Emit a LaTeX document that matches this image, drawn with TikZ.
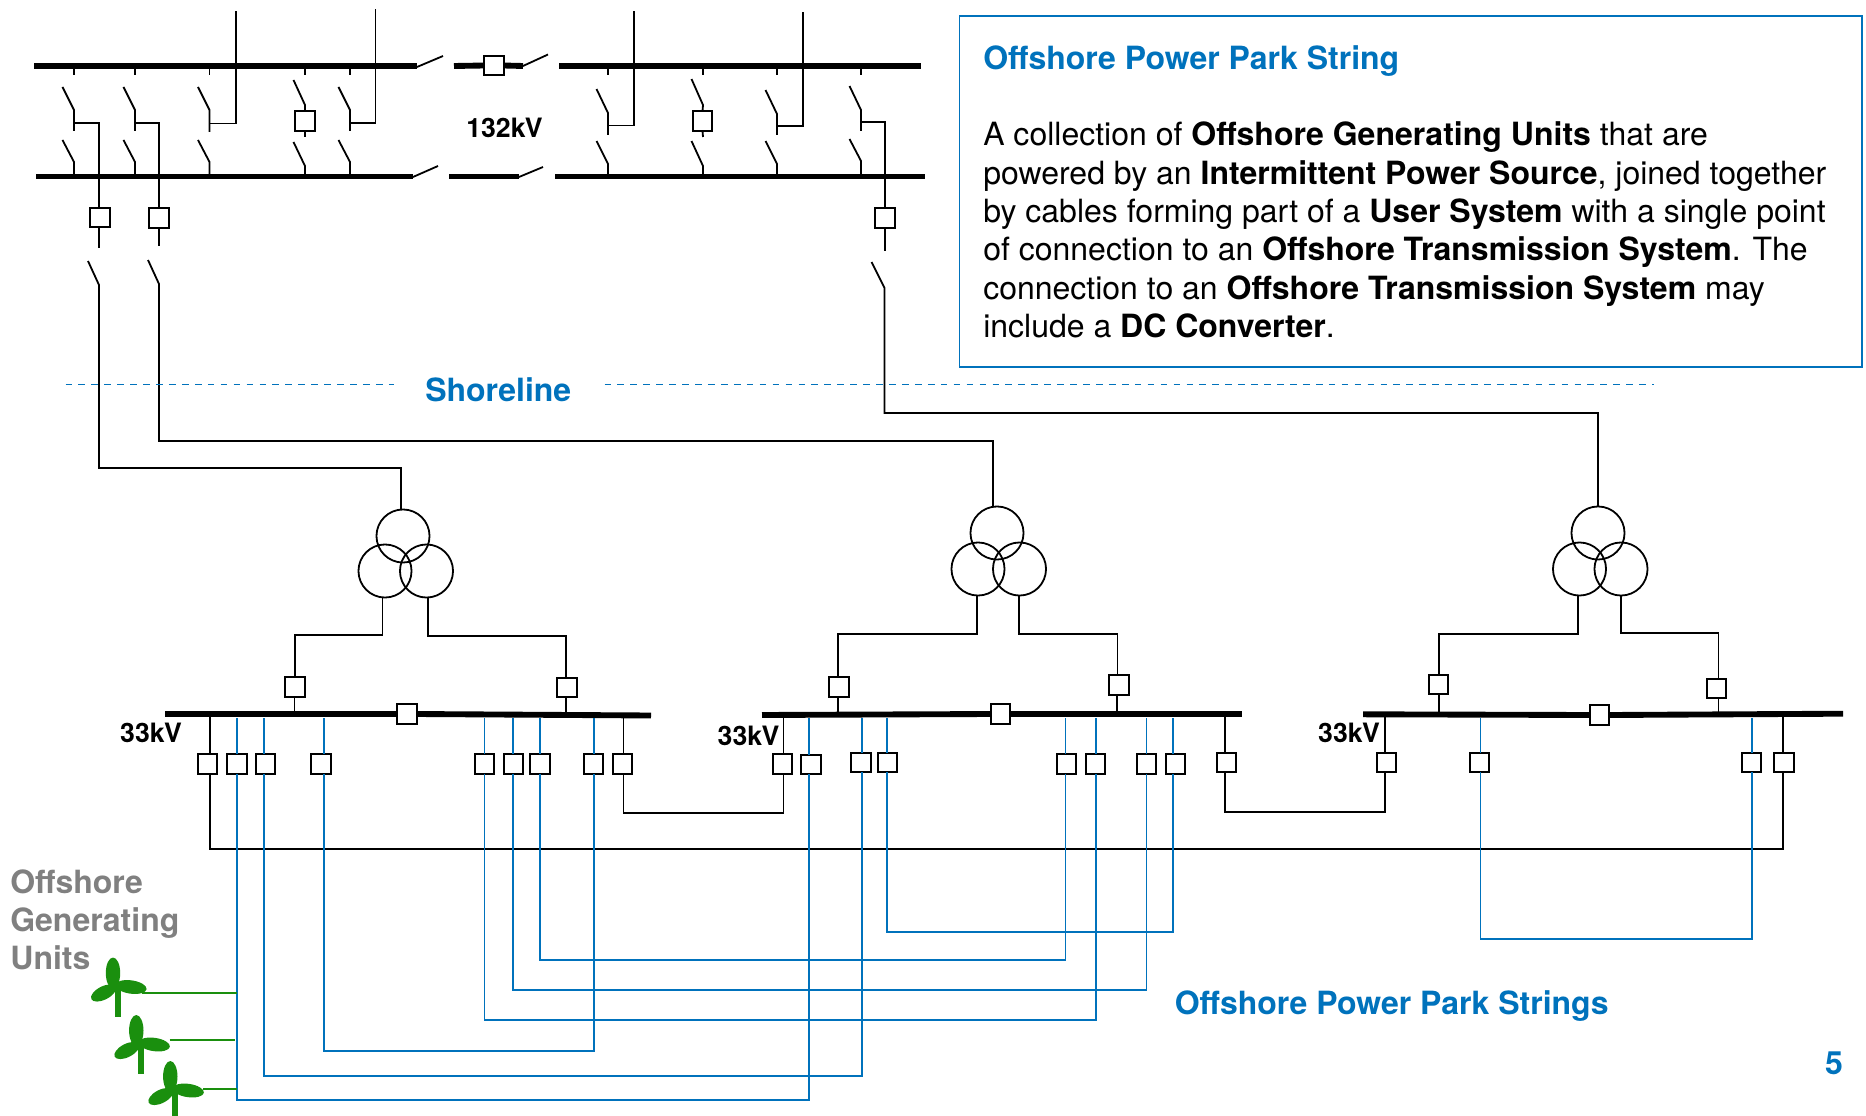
\documentclass[tikz,border=0pt]{standalone}
\usepackage{fontspec}
\setmainfont{TeX Gyre Heros}
\definecolor{pblue}{HTML}{0072BC}
\definecolor{pgreen}{HTML}{1A8F0E}
\definecolor{pgrey}{HTML}{808080}
\tikzset{
 wire/.style={black,line width=1.35pt},
 bwire/.style={pblue,line width=1.3pt},
 gwire/.style={pgreen,line width=1.3pt},
 bar/.style={black,line width=4.4pt},
 brk/.style={draw=black,line width=1.5pt,fill=white,minimum size=14.6pt,inner sep=0pt,outer sep=0pt},
 coil/.style={draw=black,line width=1.35pt,circle,minimum size=39.8pt,inner sep=0pt,outer sep=0pt},
 lab/.style={font=\fontsize{20pt}{22pt}\selectfont\bfseries,inner sep=0pt},
 bluetxt/.style={font=\fontsize{24pt}{28.75pt}\selectfont\bfseries,text=pblue,inner sep=0pt,anchor=west},
 shoredash/.style={pblue,line width=1.25pt,dash pattern=on 5pt off 4.7pt},
}
\newcommand{\sw}[4]{\draw[wire] (#1,#2) -- (#3,#4);}
\newcommand{\tw}[2]{%
 \begin{scope}[shift={(#1,#2)}]
  \fill[pgreen] (113,973) ellipse [x radius=5.4pt,y radius=11.6pt];
  \fill[pgreen] (131,987) ellipse [x radius=11.8pt,y radius=5pt,rotate=-8];
  \fill[pgreen] (103.5,993) ellipse [x radius=10.2pt,y radius=5pt,rotate=27];
  \fill[pgreen] (114.5,984) rectangle (120.5,1016.7);
 \end{scope}}
\newcommand{\lp}[3]{\draw[bwire] (b#1.south -| t#1) -- (t#1 |- 0,#3) -- (t#2 |- 0,#3) -- (b#2.south -| t#2);}
\begin{document}
\begin{tikzpicture}[x=0.75pt,y=-0.75pt]
\useasboundingbox (0,0) rectangle (1866,1116);
% ---- 33kV feeder nodes: name/line x/box x/box y/bus y
\foreach \n/\lx/\bx/\by/\ty in {
 a/210.2/207.5/764/714, b/237/237/764/718, c/264.2/265.3/764/718, d/323.9/321.2/764/718,
 e/484.6/484.6/764/718, f/513/513.3/764/718, g/539.7/540/764/718, h/593.7/593.7/764/718, i/623.5/622.4/764/716,
 j/783.4/782.7/764/716, k/808.7/811/764.7/718, l/862.3/861/762.3/718, m/886.8/887.5/762.3/718,
 n/1065.5/1066.6/764/718, o/1096/1095.7/764/718, p/1146.6/1146.6/764/718, q/1173/1175.7/764/718, r/1225/1226.6/762.3/716,
 s/1384.8/1386.3/762.3/716, u/1480.5/1479.4/762.3/718, v/1752.3/1751.6/762.3/718, w/1782.7/1783.8/762.3/715}
 {\node[brk] (b\n) at (\bx,\by) {}; \coordinate (t\n) at (\lx,\ty);}
% 132kV breakers
\node[brk] (h1) at (100,217.5) {};
\node[brk] (h2) at (159,218) {};
\node[brk] (h3) at (305,121) {};
\node[brk] (h4) at (702.5,121) {};
\node[brk] (h5) at (885,218) {};
\node[brk] (hs) at (494,65.5) {};
% 33kV upper breakers
\node[brk] (x1) at (295.2,687) {};
\node[brk] (x2) at (567,687.5) {};
\node[brk] (x3) at (839,687) {};
\node[brk] (x4) at (1119,685) {};
\node[brk] (x5) at (1438.6,684.3) {};
\node[brk] (x6) at (1716.6,688.3) {};
% section breakers
\node[brk] (s1) at (407,714) {};
\node[brk] (s2) at (1000.4,714) {};
\node[brk] (s3) at (1599.6,715) {};
% transformers
\node[coil] (tt1) at (403,536) {};
\node[coil] (tl1) at (385,571) {};
\node[coil] (tr1) at (426.5,571) {};
\node[coil] (tt2) at (997,533) {};
\node[coil] (tl2) at (978,569) {};
\node[coil] (tr2) at (1019.5,569) {};
\node[coil] (tt3) at (1598,533) {};
\node[coil] (tl3) at (1579.5,569) {};
\node[coil] (tr3) at (1621,569) {};
% ---- 132kV busbars
\draw[bar] (34,66) -- (417,66);
\draw[bar] (36,176.5) -- (413,176.5);
\draw[bar] (454,66) -- (hs.west);
\draw[bar] (hs.east) -- (523,66);
\draw[bar] (449,176.5) -- (519,176.5);
\draw[bar] (559,66) -- (920.7,66);
\draw[bar] (555,176.5) -- (925,176.5);
\sw{417}{67}{443}{56}
\sw{413}{177}{438}{166}
\sw{523}{66}{548}{54.5}
\sw{519}{177}{543}{167}
% stubs under top bar
\foreach \x in {74,135,209.5,305,350,608,703,777,861} {\draw[wire] (\x,66) -- (\x,75);}
% upper isolators
\foreach \x/\yt/\yb/\ye in {74/87/110/131,135/87/110/131,209.5/87/110/132,350/87/110/131,608/89/113/135,777/90/114/135,861/86/110/131}
 {\draw[wire] (\x-11.5,\yt) -- (\x,\yb) -- (\x,\ye);}
% lower isolators
\foreach \x/\yt/\yb in {74/140/162,135/140/162,209.5/140/162,305/142/166,350/140/162,608/141/164,703/141/166,777/141/164,861/139/161}
 {\draw[wire] (\x-11.5,\yt) -- (\x,\yb) -- (\x,176);}
% isolators to breakers
\draw[wire] (293.5,80) -- (305,105) -- (h3.north);
\draw[wire] (h3.south) -- (305,137);
\draw[wire] (691.5,79) -- (703,105) -- (h4.north);
\draw[wire] (h4.south) -- (703,137);
% tees
\draw[wire] (74,123) -- (99,123) -- (99,176);
\draw[wire] (135,123) -- (159,123) -- (159,176);
\draw[wire] (209.5,123.5) -- (236,123.5) -- (236,11);
\draw[wire] (350,123) -- (375.5,123) -- (375.5,9);
\draw[wire] (608,125.5) -- (634,125.5) -- (634,11);
\draw[wire] (777,126) -- (803,126) -- (803,12);
\draw[wire] (861,122) -- (885,122) -- (885,176);
% cables to transformers
\draw[wire] (99,176) -- (h1.north -| 99,0);
\draw[wire] (h1.south -| 99,0) -- (99,248);
\draw[wire] (88,261) -- (99,285) -- (99,468) -- (401,468) -- (tt1.north -| 401,0);
\draw[wire] (159,176) -- (h2.north);
\draw[wire] (h2.south) -- (159,246);
\draw[wire] (148,260) -- (159,284) -- (159,441) -- (993,441) -- (tt2.north -| 993,0);
\draw[wire] (885,176) -- (h5.north);
\draw[wire] (h5.south) -- (885,251);
\draw[wire] (871.5,262) -- (884.5,288) -- (884.5,413) -- (tt3.north |- 0,413) -- (tt3.north);
% transformer secondaries
\draw[wire] (382.5,598) -- (382.5,635) -- (294.6,635) -- (x1.north -| 294.6,0);
\draw[wire] (428,598) -- (428,636) -- (565.7,636) -- (x2.north -| 565.7,0);
\draw[wire] (977,596) -- (977,634) -- (838,634) -- (x3.north -| 838,0);
\draw[wire] (1019,596) -- (1019,634) -- (1117.5,634) -- (x4.north -| 1117.5,0);
\draw[wire] (1578,596) -- (1578,634) -- (1439,634) -- (x5.north -| 1439,0);
\draw[wire] (1621,596) -- (1621,633) -- (1718.4,633) -- (x6.north -| 1718.4,0);
\draw[wire] (x1.south -| 294.4,0) -- (294.4,714);
\draw[wire] (x2.south -| 565.7,0) -- (565.7,715);
\draw[wire] (x3.south -| 837.8,0) -- (837.8,715);
\draw[wire] (x4.south -| 1117,0) -- (1117,714);
\draw[wire] (x5.south -| 1439,0) -- (1439,714);
\draw[wire] (x6.south -| 1718.4,0) -- (1718.4,714);
% 33kV busbars
\draw[bar] (165,714) -- (s1.west);
\draw[bar] (s1.east) -- (651,715.5);
\draw[bar] (762,715) -- (s2.west);
\draw[bar] (s2.east) -- (1241.5,714);
\draw[bar] (1363,714.3) -- (s3.west);
\draw[bar] (s3.east) -- (1843,713.7);
% black interconnectors
\draw[wire] (ta) -- (ba.north -| ta);
\draw[wire] (ti) -- (bi.north -| ti);
\draw[wire] (tj) -- (bj.north -| tj);
\draw[wire] (tr) -- (br.north -| tr);
\draw[wire] (ts) -- (bs.north -| ts);
\draw[wire] (tw) -- (bw.north -| tw);
\draw[wire] (ba.south -| ta) -- (ta |- 0,849) -- (tw |- 0,849) -- (bw.south -| tw);
\draw[wire] (bi.south -| ti) -- (ti |- 0,812.7) -- (tj |- 0,812.7) -- (bj.south -| tj);
\draw[wire] (br.south -| tr) -- (tr |- 0,812) -- (ts |- 0,812) -- (bs.south -| ts);
% blue strings
\foreach \n in {b,c,d,e,f,g,h,k,l,m,n,o,p,q,u,v} {\draw[bwire] (t\n) -- (b\n.north -| t\n);}
\lp{b}{k}{1099.7}
\lp{c}{l}{1076}
\lp{d}{h}{1051}
\lp{e}{o}{1020}
\lp{f}{p}{990}
\lp{g}{n}{960}
\lp{m}{q}{932}
\lp{u}{v}{939}
% turbines
\tw{0}{0}
\tw{23.3}{57.5}
\tw{57.3}{103.5}
\coordinate (g1) at (142,992.7);
\coordinate (g2) at (169.5,1040);
\coordinate (g3) at (203,1089);
\draw[gwire] (g1) -- (tb |- g1);
\draw[gwire] (g2) -- (235,1040);
\draw[gwire] (g3) -- (tb |- g3);
% shoreline
\coordinate (sl1) at (65.5,384.5);
\coordinate (sl2) at (394,384.5);
\coordinate (sl3) at (604.5,384.5);
\coordinate (sl4) at (1654,384.5);
\draw[shoredash] (sl1) -- (sl2);
\draw[shoredash] (sl3) -- (sl4);
\node[bluetxt] (shore) at (425,390) {Shoreline};
% labels
\node[lab] (l132) at (504.5,127.5) {132kV};
\node[lab] (l33a) at (151,732.7) {33kV};
\node[lab] (l33b) at (748.5,735.7) {33kV};
\node[lab] (l33c) at (1349,732.7) {33kV};
\node[bluetxt] (strs) at (1174.5,1006.5) {Offshore Power Park Strings};
\node[bluetxt,anchor=center] (pg) at (1834,1063) {5};
\node[font=\fontsize{24pt}{28.7pt}\selectfont\bfseries,text=pgrey,align=left,inner sep=0pt,anchor=north west] (ogu) at (10,869.2) {Offshore\\Generating\\Units};
% legend
\node[draw=pblue,line width=1.4pt,anchor=north west,minimum width=677pt,minimum height=263pt,inner sep=0pt] (box) at (958.5,15.5) {};
\node[anchor=base west,align=left,inner sep=0pt,font=\fontsize{24pt}{28.75pt}\selectfont] (txt) at (983,337.5) {%
\textcolor{pblue}{\textbf{Offshore Power Park String}}\\[28.75pt]
A collection of \textbf{Offshore Generating Units} that are\\
powered by an \textbf{Intermittent Power Source}, joined together\\
by cables forming part of a \textbf{User System} with a single point\\
of connection to an \textbf{Offshore Transmission System}. The\\
connection to an \textbf{Offshore Transmission System} may\\
include a \textbf{DC Converter}.};
\end{tikzpicture}
\end{document}
